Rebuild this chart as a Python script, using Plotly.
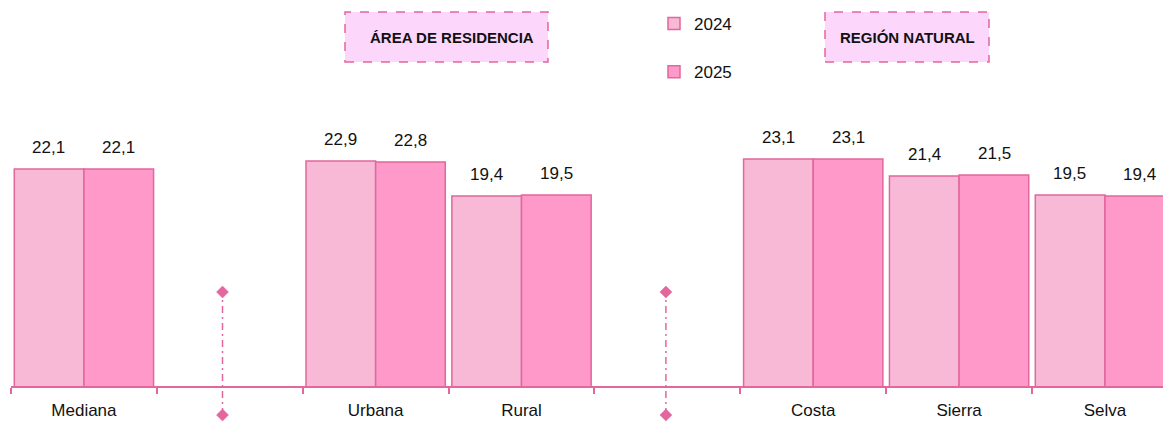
import plotly.graph_objects as go

categories = ["Mediana", " ", "Urbana", "Rural", "  ", "Costa", "Sierra", "Selva"]
v2024 = [22.1, None, 22.9, 19.4, None, 23.1, 21.4, 19.5]
v2025 = [22.1, None, 22.8, 19.5, None, 23.1, 21.5, 19.4]
series_names = ["2024", "2025"]
headers = ["ÁREA DE RESIDENCIA", "REGIÓN NATURAL"]

FONT = "Liberation Sans Narrow, Arial Narrow, Liberation Sans, Arial, sans-serif"
C24 = "#f7b9d5"
C25 = "#fe99ca"
EDGE = "#e3669c"

W, H = 1163, 421
ML, MB = 11, 35
plot_w = W - ML
plot_h = H - MB
Y0 = 0.4
KPX = 10.0  # px per unit
ytop = Y0 + plot_h / KPX
cat_w = 145.86
xmax = -0.5 + plot_w / cat_w

fig = go.Figure()
for name, vals, col in [(series_names[0], v2024, C24), (series_names[1], v2025, C25)]:
    fig.add_trace(go.Bar(
        x=categories, y=vals, name=name, legendgroup=name,
        marker=dict(color=col, line=dict(color=EDGE, width=1.5)),
    ))

# value labels
ann = []
for vals, sh in [(v2024, -35), (v2025, 35)]:
    for c, v in zip(categories, vals):
        if v is None:
            continue
        ann.append(dict(x=c, y=v, xref="x", yref="y", text=f"{v:.1f}".replace(".", ","),
                        showarrow=False, xshift=sh, yshift=10, yanchor="bottom", xanchor="center",
                        font=dict(family=FONT, size=17, color="#111")))

def px2py(p):
    return (plot_h - p) / plot_h

def px2fx(p):
    return (p - ML) / plot_w

def idx2fx(i):
    return (i + 0.5) * cat_w / plot_w

shapes = []
# header boxes
for (x0, x1), txt, tx in [((345, 548), headers[0], 452), ((825, 989), headers[1], 907)]:
    shapes.append(dict(type="rect", xref="paper", yref="paper",
                       x0=px2fx(x0), x1=px2fx(x1), y0=px2py(62), y1=px2py(12),
                       fillcolor="#fdd6fc", line=dict(color=EDGE, width=1.5, dash="dash"),
                       layer="below"))
    ann.append(dict(x=px2fx(tx), y=px2py(37), xref="paper", yref="paper", text=f"<b>{txt}</b>",
                    showarrow=False, xanchor="center", yanchor="middle",
                    font=dict(family=FONT, size=15, color="#111")))

# divider lines at blank categories
div_idx = [0.95, 3.99]
div_top_px, div_bot_px = 292, 415
dxp, dyp = 6 / plot_w, 6 / plot_h
for i in div_idx:
    fx = idx2fx(i)
    yt, yb = px2py(div_top_px), px2py(div_bot_px)
    shapes.append(dict(type="line", xref="paper", yref="paper", x0=fx, x1=fx, y0=yb, y1=yt,
                       line=dict(color=EDGE, width=1.5, dash="7px,4px,2px,4px")))
    for yy in (yt, yb):
        shapes.append(dict(type="path", xref="paper", yref="paper",
                           path=f"M {fx-dxp} {yy} L {fx} {yy+dyp} L {fx+dxp} {yy} L {fx} {yy-dyp} Z",
                           fillcolor=EDGE, line=dict(color=EDGE, width=0.5)))

fig.update_layout(
    width=W, height=H,
    margin=dict(l=ML, r=0, t=0, b=MB),
    plot_bgcolor="white", paper_bgcolor="white",
    barmode="group", bargap=0.045, bargroupgap=0,
    font=dict(family=FONT, size=16, color="#111"),
    showlegend=True,
    legend=dict(x=px2fx(654), y=px2py(6), xanchor="left", yanchor="top",
                tracegroupgap=23, font=dict(family=FONT, size=17, color="#111"),
                bgcolor="rgba(0,0,0,0)", itemwidth=30),
    xaxis=dict(type="category", range=[-0.5, xmax], showline=True, linecolor=EDGE, linewidth=1.5,
               ticks="outside", tickson="boundaries", ticklen=6, tickcolor=EDGE, tickwidth=1.5,
               ticklabelstandoff=8,
               showgrid=False, zeroline=False, tickfont=dict(family=FONT, size=17, color="#111")),
    yaxis=dict(range=[Y0, ytop], visible=False, showgrid=False, zeroline=False),
    shapes=shapes, annotations=ann,
)

fig.write_html("out.html", config={"displayModeBar": False},
               post_script="document.body.style.margin='0';document.body.style.overflow='hidden';")
